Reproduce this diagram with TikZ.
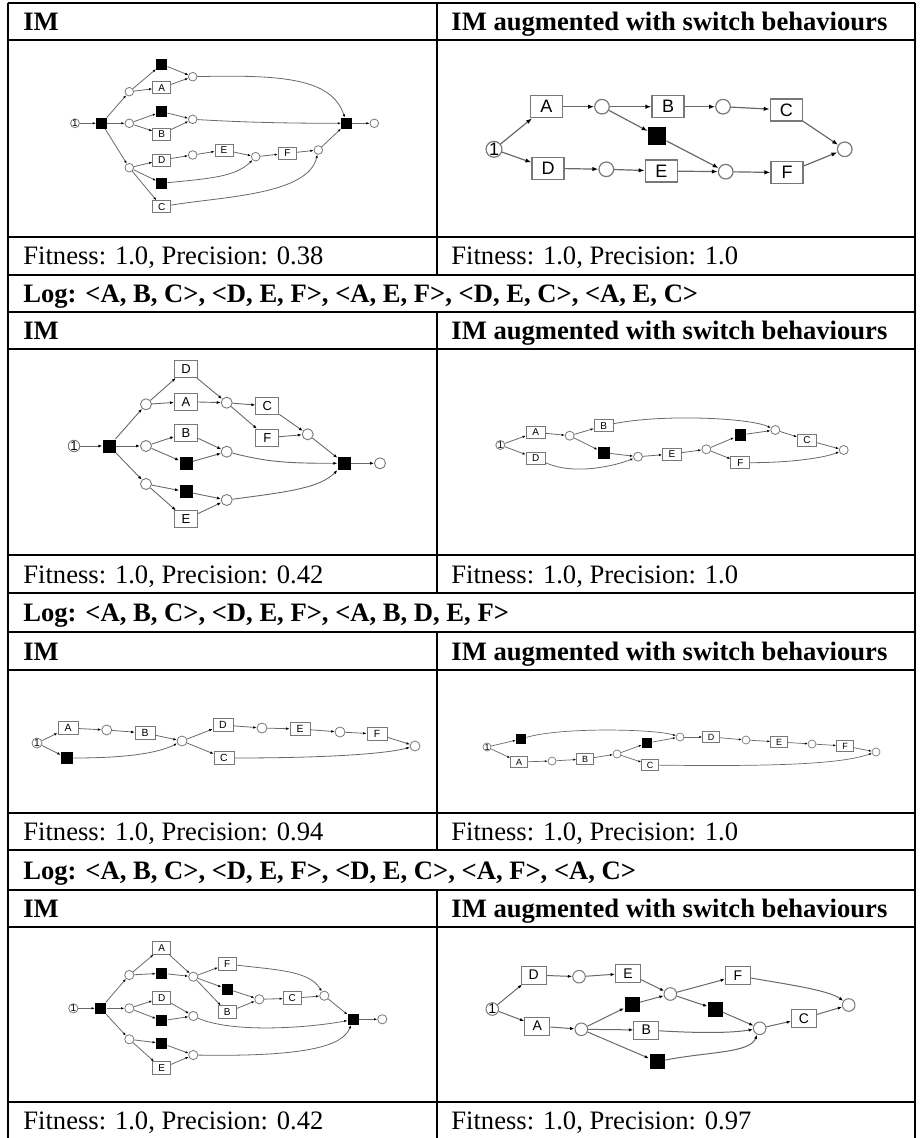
\documentclass[tikz,border=0pt]{standalone}
\usepackage{fontspec}
\setmainfont{Liberation Serif}
\setsansfont{Liberation Sans}
\usetikzlibrary{arrows.meta}
\usetikzlibrary{positioning}

\definecolor{netgray}{RGB}{120,120,120}
\definecolor{arcgray}{RGB}{105,105,105}

\tikzset{
  net/.style n args={8}{
    place/.style={circle,draw=netgray,fill=white,line width=#8,inner sep=0pt,minimum size=#1},
    initplace/.style={place,font=\sffamily\fontsize{#5}{#5}\selectfont},
    trans/.style={rectangle,draw=netgray,fill=white,line width=#8,inner sep=0pt,minimum width=#2,minimum height=#3,font=\sffamily\fontsize{#5}{#5}\selectfont},
    tau/.style={rectangle,fill=black,inner sep=0pt,minimum size=#4},
    flow/.style={draw=arcgray,line width=#8,-{Latex[length=#6,width=#7,color=black]}},
  },
  head/.style={font=\bfseries\fontsize{13.3}{16}\selectfont,anchor=base west,inner sep=0pt},
  cell/.style={font=\fontsize{13.3}{16}\selectfont,anchor=base west,inner sep=0pt},
  hrule/.style={line width=1.1pt},
  vrule/.style={line width=0.8pt},
}

\begin{document}
\begin{tikzpicture}[x=0.5pt,y=-0.5pt]
\useasboundingbox (0,0) rectangle (920,1138);

% table rules
\foreach \y in {3,40,237,275,312,349,555,593,632,670,813,850,890,927,1102}
  \draw[hrule] (8,\y) -- (915,\y);
\draw[vrule] (8,3) -- (8,1138);
\draw[vrule] (915,3) -- (915,1138);
\draw[vrule] (437,3) -- (437,275);
\draw[vrule] (437,312) -- (437,593);
\draw[vrule] (437,632) -- (437,850);
\draw[vrule] (437,890) -- (437,1138);

% headers
\node[head] (h1l) at (23,30.5) {IM};
\node[head] (h1r) at (451,30.5) {IM augmented with switch behaviours};
\node[head] (h2l) at (23,339.5) {IM};
\node[head] (h2r) at (451,339.5) {IM augmented with switch behaviours};
\node[head] (h3l) at (23,660) {IM};
\node[head] (h3r) at (451,660) {IM augmented with switch behaviours};
\node[head] (h4l) at (23,917.5) {IM};
\node[head] (h4r) at (451,917.5) {IM augmented with switch behaviours};

% fitness rows
\node[cell] (f1l) at (23,265) {Fitness: 1.0, Precision: 0.38};
\node[cell] (f1r) at (451,265) {Fitness: 1.0, Precision: 1.0};
\node[cell] (f2l) at (23,583) {Fitness: 1.0, Precision: 0.42};
\node[cell] (f2r) at (451,583) {Fitness: 1.0, Precision: 1.0};
\node[cell] (f3l) at (23,840.5) {Fitness: 1.0, Precision: 0.94};
\node[cell] (f3r) at (451,840.5) {Fitness: 1.0, Precision: 1.0};
\node[cell] (f4l) at (23,1129.5) {Fitness: 1.0, Precision: 0.42};
\node[cell] (f4r) at (451,1129.5) {Fitness: 1.0, Precision: 0.97};

% log rows
\node[head] (log2) at (23,302.5) {Log: <A, B, C>, <D, E, F>, <A, E, F>, <D, E, C>, <A, E, C>};
\node[head] (log3) at (23,621.5) {Log: <A, B, C>, <D, E, F>, <A, B, D, E, F>};
\node[head] (log4) at (23,879) {Log: <A, B, C>, <D, E, F>, <D, E, C>, <A, F>, <A, C>};

% net 1, IM
\begin{scope}[net={4.3pt}{9pt}{6pt}{5.3pt}{5pt}{1.6pt}{1.2pt}{0.4pt}]
\node[initplace] (aS) at (75,123.3) {1};
\node[tau] (aT1) at (101.7,123.3) {};
\node[place] (aP1) at (129.3,91.7) {};
\node[place] (aP2) at (129.3,123.3) {};
\node[place] (aP3) at (129.3,167.7) {};
\node[tau] (aT2) at (161.7,64.3) {};
\node[trans] (aA) at (161.7,87.7) {A};
\node[place] (aQ1) at (192.7,76.7) {};
\node[tau] (aT3) at (161.7,111.7) {};
\node[trans] (aB) at (161.7,134) {B};
\node[place] (aQ2) at (192.7,119.3) {};
\node[trans] (aD) at (161.7,160) {D};
\node[place] (aR1) at (192.7,155) {};
\node[trans] (aE) at (224,150) {E};
\node[tau] (aT4) at (161.7,183.3) {};
\node[place] (aR2) at (255.7,156.7) {};
\node[trans] (aF) at (287.3,153.3) {F};
\node[place] (aR3) at (318.3,150) {};
\node[trans] (aC) at (161.7,206.7) {C};
\node[tau] (aT5) at (346.7,123.3) {};
\node[place] (aEnd) at (374.3,123.3) {};
\draw[flow] (aS) -- (aT1);
\draw[flow] (aT1) -- (aP1);
\draw[flow] (aT1) -- (aP2);
\draw[flow] (aT1) -- (aP3);
\draw[flow] (aP1) -- (aT2);
\draw[flow] (aP1) -- (aA);
\draw[flow] (aT2) -- (aQ1);
\draw[flow] (aA) -- (aQ1);
\draw[flow] (aP2) -- (aT3);
\draw[flow] (aP2) -- (aB);
\draw[flow] (aT3) -- (aQ2);
\draw[flow] (aB) -- (aQ2);
\draw[flow] (aP3) -- (aD);
\draw[flow] (aP3) -- (aT4);
\draw[flow] (aP3) -- (aC);
\draw[flow] (aD) -- (aR1);
\draw[flow] (aR1) -- (aE);
\draw[flow] (aE) -- (aR2);
\draw[flow] (aR2) -- (aF);
\draw[flow] (aF) -- (aR3);
\draw[flow] (aR3) -- (aT5);
\draw[flow] (aT5) -- (aEnd);
\draw[flow] (aQ1) .. controls +(90,-2) and +(-15,-45) .. (aT5);
\draw[flow] (aQ2) .. controls +(50,3) and +(-60,0) .. (aT5);
\draw[flow] (aT4) .. controls +(50,-5) and +(-20,20) .. (aR2);
\draw[flow] (aC) .. controls +(60,-10) and +(-10,45) .. (aR3);
\end{scope}

% net 1, augmented
\begin{scope}[net={7.3pt}{16pt}{11pt}{9pt}{9pt}{3pt}{2.2pt}{0.6pt}]
\node[initplace] (bS) at (494,149.3) {1};
\node[trans] (bA) at (546.3,106.7) {A};
\node[place] (bPa) at (602,106.7) {};
\node[trans] (bB) at (668,106.7) {B};
\node[place] (bPb) at (723,106.7) {};
\node[trans] (bC) at (786.3,110) {C};
\node[tau] (bT) at (657,136) {};
\node[trans] (bD) at (548,168.3) {D};
\node[place] (bPd) at (606.3,169.3) {};
\node[trans] (bE) at (661.3,171) {E};
\node[place] (bPe) at (725.7,171.7) {};
\node[trans] (bF) at (787,172.7) {F};
\node[place] (bEnd) at (844.7,149.3) {};
\draw[flow] (bS) -- (bA);
\draw[flow] (bS) -- (bD);
\draw[flow] (bA) -- (bPa);
\draw[flow] (bPa) -- (bB);
\draw[flow] (bPa) -- (bT);
\draw[flow] (bB) -- (bPb);
\draw[flow] (bPb) -- (bC);
\draw[flow] (bC) -- (bEnd);
\draw[flow] (bT) -- (bPe);
\draw[flow] (bD) -- (bPd);
\draw[flow] (bPd) -- (bE);
\draw[flow] (bE) -- (bPe);
\draw[flow] (bPe) -- (bF);
\draw[flow] (bF) -- (bEnd);
\end{scope}

% net 2, IM
\begin{scope}[net={5.5pt}{11.5pt}{8.5pt}{6.5pt}{6.5pt}{2pt}{1.5pt}{0.45pt}]
\node[initplace] (cS) at (74,446) {1};
\node[tau] (cT1) at (109.3,446) {};
\node[place] (cP1) at (146,404.3) {};
\node[place] (cP2) at (146,446) {};
\node[place] (cP3) at (146,484) {};
\node[trans] (cD) at (186,369) {D};
\node[trans] (cA) at (186,401.7) {A};
\node[place] (cQ1) at (226.7,402.7) {};
\node[trans] (cC) at (267.3,406) {C};
\node[trans] (cF) at (267.3,437.7) {F};
\node[place] (cQ2) at (307.7,434.3) {};
\node[trans] (cB) at (186,432.7) {B};
\node[tau] (cT2) at (186,463.3) {};
\node[place] (cR1) at (226.7,451.7) {};
\node[tau] (cT3) at (186,491.7) {};
\node[place] (cR2) at (226.7,500) {};
\node[trans] (cE) at (186,519.3) {E};
\node[tau] (cT4) at (344.3,463.3) {};
\node[place] (cEnd) at (380,463.3) {};
\draw[flow] (cS) -- (cT1);
\draw[flow] (cT1) -- (cP1);
\draw[flow] (cT1) -- (cP2);
\draw[flow] (cT1) -- (cP3);
\draw[flow] (cP1) -- (cD);
\draw[flow] (cP1) -- (cA);
\draw[flow] (cD) -- (cQ1);
\draw[flow] (cA) -- (cQ1);
\draw[flow] (cQ1) -- (cC);
\draw[flow] (cQ1) -- (cF);
\draw[flow] (cC) -- (cQ2);
\draw[flow] (cF) -- (cQ2);
\draw[flow] (cQ2) -- (cT4);
\draw[flow] (cP2) -- (cB);
\draw[flow] (cP2) -- (cT2);
\draw[flow] (cB) -- (cR1);
\draw[flow] (cT2) -- (cR1);
\draw[flow] (cP3) -- (cT3);
\draw[flow] (cP3) -- (cE);
\draw[flow] (cT3) -- (cR2);
\draw[flow] (cE) -- (cR2);
\draw[flow] (cT4) -- (cEnd);
\draw[flow] (cR1) .. controls +(40,10) and +(-60,0) .. (cT4);
\draw[flow] (cR2) .. controls +(60,-8) and +(-25,25) .. (cT4);
\end{scope}

% net 2, augmented
\begin{scope}[net={4.5pt}{9.5pt}{6pt}{5.8pt}{5pt}{1.6pt}{1.2pt}{0.4pt}]
\node[initplace] (dS) at (500.3,445) {1};
\node[trans] (dA) at (535.7,432.3) {A};
\node[trans] (dD) at (535.7,458.3) {D};
\node[place] (dP1) at (569.7,435.7) {};
\node[trans] (dB) at (603.7,425.7) {B};
\node[tau] (dT1) at (603.7,452.7) {};
\node[place] (dP2) at (638,456.7) {};
\node[trans] (dE) at (672,454) {E};
\node[place] (dP3) at (706.3,449.3) {};
\node[tau] (dT2) at (740.3,435) {};
\node[trans] (dF) at (740.3,462.7) {F};
\node[place] (dP4) at (775.3,430) {};
\node[trans] (dC) at (807,440) {C};
\node[place] (dEnd) at (843.7,450) {};
\draw[flow] (dS) -- (dA);
\draw[flow] (dS) -- (dD);
\draw[flow] (dA) -- (dP1);
\draw[flow] (dP1) -- (dB);
\draw[flow] (dP1) -- (dT1);
\draw[flow] (dT1) -- (dP2);
\draw[flow] (dP2) -- (dE);
\draw[flow] (dE) -- (dP3);
\draw[flow] (dP3) -- (dT2);
\draw[flow] (dP3) -- (dF);
\draw[flow] (dT2) -- (dP4);
\draw[flow] (dP4) -- (dC);
\draw[flow] (dC) -- (dEnd);
\draw[flow] (dB) .. controls +(60,-12) and +(-25,-12) .. (dP4);
\draw[flow] (dD) .. controls +(40,18) and +(-20,8) .. (dP2);
\draw[flow] (dF) .. controls +(50,0) and +(-20,8) .. (dEnd);
\end{scope}

% net 3, IM
\begin{scope}[net={5pt}{10pt}{6.5pt}{6pt}{5.2pt}{1.7pt}{1.3pt}{0.4pt}]
\node[initplace] (eS) at (37,743) {1};
\node[trans] (eA) at (68,728) {A};
\node[place] (eP1) at (106.7,730) {};
\node[trans] (eB) at (145,733) {B};
\node[tau] (eT) at (67,758) {};
\node[place] (eM) at (182,741) {};
\node[trans] (eD) at (223,725) {D};
\node[place] (eP2) at (262,728) {};
\node[trans] (eE) at (300,729) {E};
\node[place] (eP3) at (340,732) {};
\node[trans] (eF) at (377,734) {F};
\node[place] (eEnd) at (415,746) {};
\node[trans] (eC) at (224,758) {C};
\draw[flow] (eS) -- (eA);
\draw[flow] (eS) -- (eT);
\draw[flow] (eA) -- (eP1);
\draw[flow] (eP1) -- (eB);
\draw[flow] (eB) -- (eM);
\draw[flow] (eM) -- (eD);
\draw[flow] (eM) -- (eC);
\draw[flow] (eD) -- (eP2);
\draw[flow] (eP2) -- (eE);
\draw[flow] (eE) -- (eP3);
\draw[flow] (eP3) -- (eF);
\draw[flow] (eF) -- (eEnd);
\draw[flow] (eT) .. controls +(70,0) and +(-20,10) .. (eM);
\draw[flow] (eC) .. controls +(100,0) and +(-30,8) .. (eEnd);
\end{scope}

% net 3, augmented
\begin{scope}[net={4pt}{8.5pt}{5.5pt}{5pt}{4.5pt}{1.4pt}{1.1pt}{0.35pt}]
\node[initplace] (fS) at (487,747) {1};
\node[tau] (fT1) at (521,739) {};
\node[trans] (fA) at (519,762) {A};
\node[place] (fPa) at (552,761) {};
\node[trans] (fB) at (585,759) {B};
\node[place] (fPb) at (617,754) {};
\node[tau] (fT2) at (647,743) {};
\node[trans] (fC) at (650,765) {C};
\node[place] (fM) at (680,737) {};
\node[trans] (fD) at (711,737) {D};
\node[place] (fPd) at (746,740) {};
\node[trans] (fE) at (779,742) {E};
\node[place] (fPe) at (812,744) {};
\node[trans] (fF) at (845,746) {F};
\node[place] (fEnd) at (876,752) {};
\draw[flow] (fS) -- (fT1);
\draw[flow] (fS) -- (fA);
\draw[flow] (fA) -- (fPa);
\draw[flow] (fPa) -- (fB);
\draw[flow] (fB) -- (fPb);
\draw[flow] (fPb) -- (fT2);
\draw[flow] (fPb) -- (fC);
\draw[flow] (fT2) -- (fM);
\draw[flow] (fM) -- (fD);
\draw[flow] (fD) -- (fPd);
\draw[flow] (fPd) -- (fE);
\draw[flow] (fE) -- (fPe);
\draw[flow] (fPe) -- (fF);
\draw[flow] (fF) -- (fEnd);
\draw[flow] (fT1) .. controls +(40,-12) and +(-25,-8) .. (fM);
\draw[flow] (fC) .. controls +(150,2) and +(-30,10) .. (fEnd);
\end{scope}

% net 4, IM
\begin{scope}[net={4.6pt}{9pt}{6.5pt}{5.5pt}{5pt}{1.6pt}{1.2pt}{0.4pt}]
\node[initplace] (gS) at (73.3,1008.3) {1};
\node[tau] (gT1) at (100.7,1008.3) {};
\node[place] (gP1) at (129.3,975) {};
\node[place] (gP2) at (129.3,1008.3) {};
\node[place] (gP3) at (129.3,1039.3) {};
\node[trans] (gA) at (161.7,947.7) {A};
\node[tau] (gT2) at (161.7,973.3) {};
\node[place] (gQ1) at (193.3,976.7) {};
\node[trans] (gF) at (227.3,964) {F};
\node[tau] (gT3) at (227.3,989) {};
\node[trans] (gB) at (227.3,1012.3) {B};
\node[place] (gQ2) at (259.3,999.3) {};
\node[trans] (gC) at (292.3,998.3) {C};
\node[place] (gQ3) at (324.3,995.7) {};
\node[trans] (gD) at (161.7,997.7) {D};
\node[tau] (gT4) at (161.7,1020.7) {};
\node[place] (gR1) at (193.3,1016) {};
\node[tau] (gT5) at (161.7,1043.3) {};
\node[trans] (gE) at (161.7,1068.3) {E};
\node[place] (gR2) at (193.3,1055) {};
\node[tau] (gT6) at (353.3,1019.3) {};
\node[place] (gEnd) at (382.3,1019.3) {};
\draw[flow] (gS) -- (gT1);
\draw[flow] (gT1) -- (gP1);
\draw[flow] (gT1) -- (gP2);
\draw[flow] (gT1) -- (gP3);
\draw[flow] (gP1) -- (gA);
\draw[flow] (gP1) -- (gT2);
\draw[flow] (gA) -- (gQ1);
\draw[flow] (gT2) -- (gQ1);
\draw[flow] (gQ1) -- (gF);
\draw[flow] (gQ1) -- (gT3);
\draw[flow] (gQ1) -- (gB);
\draw[flow] (gT3) -- (gQ2);
\draw[flow] (gB) -- (gQ2);
\draw[flow] (gQ2) -- (gC);
\draw[flow] (gC) -- (gQ3);
\draw[flow] (gQ3) -- (gT6);
\draw[flow] (gP2) -- (gD);
\draw[flow] (gP2) -- (gT4);
\draw[flow] (gD) -- (gR1);
\draw[flow] (gT4) -- (gR1);
\draw[flow] (gP3) -- (gT5);
\draw[flow] (gP3) -- (gE);
\draw[flow] (gT5) -- (gR2);
\draw[flow] (gE) -- (gR2);
\draw[flow] (gT6) -- (gEnd);
\draw[flow] (gF) .. controls +(50,6) and +(-15,-25) .. (gQ3);
\draw[flow] (gR1) .. controls +(40,18) and +(-40,8) .. (gT6);
\draw[flow] (gR2) .. controls +(120,2) and +(-10,25) .. (gT6);
\end{scope}

% net 4, augmented
\begin{scope}[net={6.3pt}{12.5pt}{9pt}{7.5pt}{7pt}{2.2pt}{1.6pt}{0.5pt}]
\node[initplace] (hS) at (492.3,1009) {1};
\node[trans] (hD) at (533.7,975) {D};
\node[place] (hPd) at (579,976.7) {};
\node[trans] (hE) at (628,973.3) {E};
\node[trans] (hA) at (537.3,1026) {A};
\node[place] (hPa) at (581.3,1029.3) {};
\node[tau] (hT1) at (632,1004.3) {};
\node[trans] (hB) at (646.3,1030) {B};
\node[tau] (hT2) at (657,1061.7) {};
\node[place] (hM) at (670.3,994) {};
\node[trans] (hF) at (738,975.7) {F};
\node[tau] (hT3) at (715.3,1009) {};
\node[place] (hN) at (759.7,1028.3) {};
\node[trans] (hC) at (804,1018.3) {C};
\node[place] (hEnd) at (848.7,1005) {};
\draw[flow] (hS) -- (hD);
\draw[flow] (hS) -- (hA);
\draw[flow] (hD) -- (hPd);
\draw[flow] (hPd) -- (hE);
\draw[flow] (hE) -- (hM);
\draw[flow] (hA) -- (hPa);
\draw[flow] (hPa) -- (hT1);
\draw[flow] (hPa) -- (hB);
\draw[flow] (hPa) -- (hT2);
\draw[flow] (hT1) -- (hM);
\draw[flow] (hM) -- (hF);
\draw[flow] (hM) -- (hT3);
\draw[flow] (hT3) -- (hN);
\draw[flow] (hN) -- (hC);
\draw[flow] (hC) -- (hEnd);
\draw[flow] (hF) .. controls +(45,8) and +(-20,-15) .. (hEnd);
\draw[flow] (hB) .. controls +(50,3) and +(-30,5) .. (hN);
\draw[flow] (hT2) .. controls +(50,-10) and +(-10,25) .. (hN);
\end{scope}

\end{tikzpicture}
\end{document}
